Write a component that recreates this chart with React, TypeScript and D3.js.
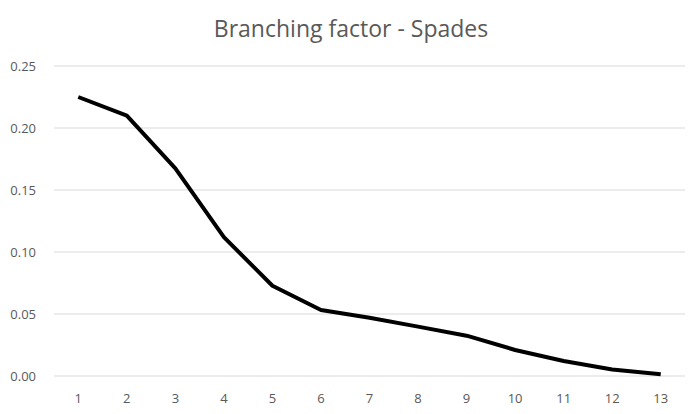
import React from "react";
import * as d3 from "d3";

const categories = ["1", "2", "3", "4", "5", "6", "7", "8", "9", "10", "11", "12", "13"];
const values = [0.225, 0.21, 0.1675, 0.112, 0.0728, 0.0532, 0.047, 0.0398, 0.0325, 0.021, 0.0121, 0.0053, 0.0015];
const yTicks = [0, 0.05, 0.1, 0.15, 0.2, 0.25];
const title = "Branching factor - Spades";

const W = 692;
const H = 414;
const font = "'Open Sans', 'Noto Sans', sans-serif";

export default function App() {
  const x = d3.scaleBand().domain(categories).range([54, 685]).padding(0);
  const y = d3.scaleLinear().domain([0, 0.25]).range([376, 66]);

  const line = d3
    .line<number>()
    .x((_, i) => x(categories[i])! + x.bandwidth() / 2)
    .y(v => y(v));

  return (
    <svg
      width={W}
      height={H}
      style={{ position: "fixed", left: 0, top: 0, background: "#fff" }}
      fontFamily={font}
    >
      <rect width={W} height={H} fill="#fff" />
      <text x={351} y={37} textAnchor="middle" fontSize={23} fill="#595959">
        {title}
      </text>
      {yTicks.map(t => (
        <g key={t}>
          <line x1={54} x2={685} y1={y(t)} y2={y(t)} stroke="#d9d9d9" strokeWidth={1} />
          <text x={36} y={y(t)} dy="0.35em" textAnchor="end" fontSize={13} fill="#595959">
            {d3.format(".2f")(t)}
          </text>
        </g>
      ))}
      {categories.map(c => (
        <text
          key={c}
          x={x(c)! + x.bandwidth() / 2}
          y={398}
          dy="0.35em"
          textAnchor="middle"
          fontSize={13}
          fill="#595959"
        >
          {c}
        </text>
      ))}
      <path
        d={line(values) || ""}
        fill="none"
        stroke="#000"
        strokeWidth={4}
        strokeLinejoin="round"
        strokeLinecap="butt"
      />
    </svg>
  );
}
